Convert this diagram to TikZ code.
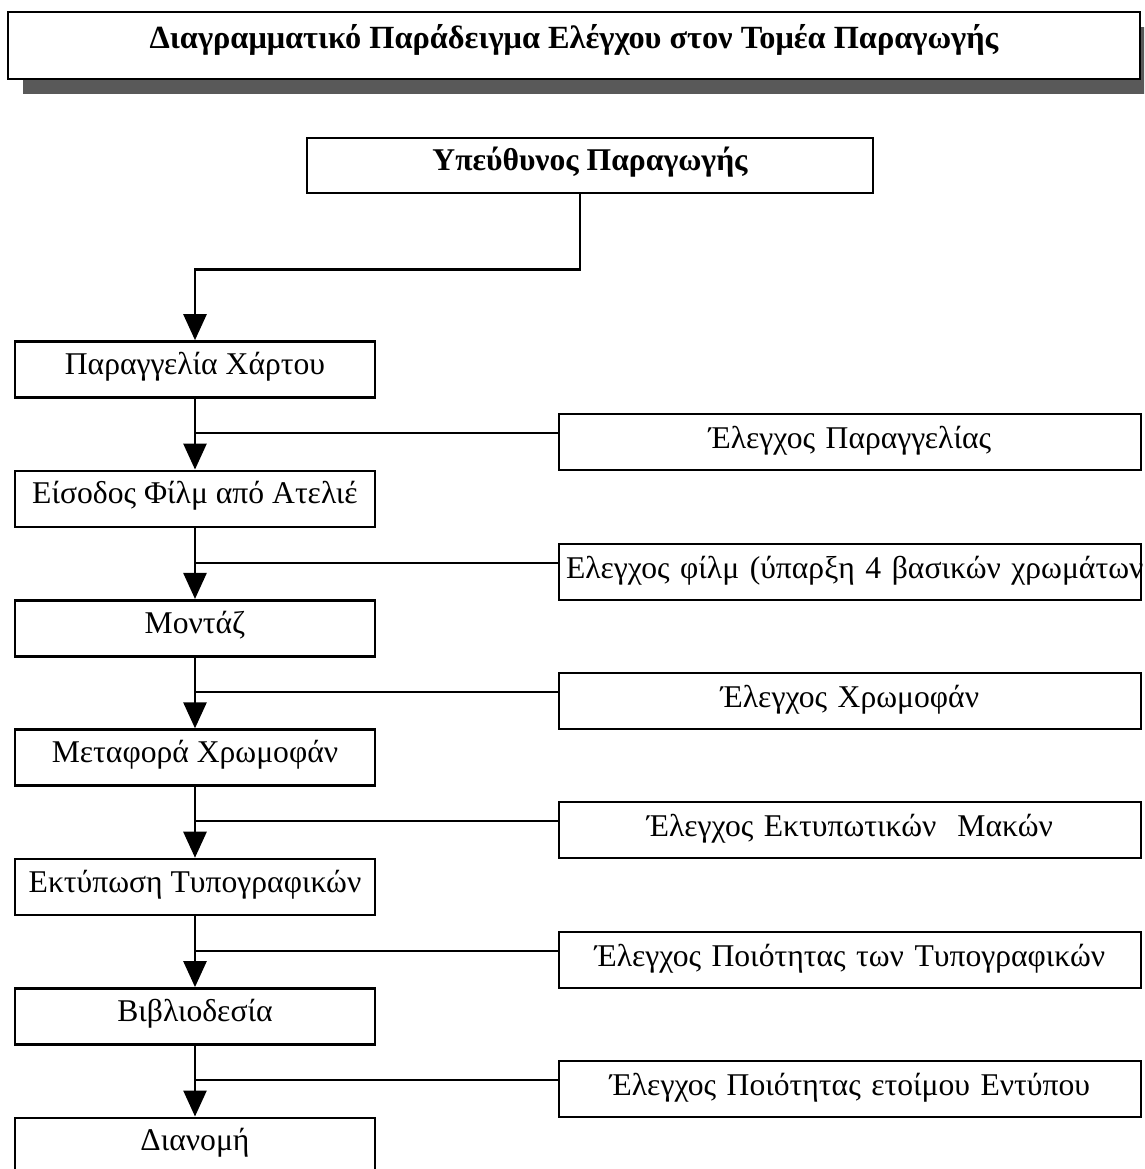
\documentclass[tikz,border=0pt]{standalone}
\usepackage{fontspec}
\setmainfont{Liberation Serif}
\usetikzlibrary{positioning}
\usetikzlibrary{arrows.meta}
\usetikzlibrary{shadows}

\begin{document}
\begin{tikzpicture}[
    heading/.style={rectangle, draw, fill=white, line width=1pt, minimum width=22.64cm, inner sep=0pt, text height=0.72cm, text depth=0.62cm, font=\bfseries\fontsize{18.4}{22}\selectfont, drop shadow={shadow xshift=0.3cm, shadow yshift=-0.3cm, fill=black!65, opacity=1}},
    boss/.style={rectangle, draw, line width=1.5pt, minimum width=11.32cm, inner sep=0pt, text height=0.64cm, text depth=0.46cm, font=\bfseries\fontsize{18}{20}\selectfont},
    stage/.style={rectangle, draw, line width=1.5pt, minimum width=7.2cm, inner sep=0pt, text height=0.66cm, text depth=0.46cm, font=\fontsize{18}{20}\selectfont},
    check/.style={rectangle, draw, line width=1.5pt, text width=11.36cm, inner xsep=0.14cm, inner ysep=0pt, align=center, text height=0.68cm, text depth=0.44cm, font=\fontsize{18}{20}\selectfont},
    flow/.style={-{Triangle[length=0.52cm, width=0.46cm]}, line width=1.5pt},
    link/.style={line width=1.5pt}
]
\clip (0,0) rectangle (22.88,-23.38);

% Title
\node[heading] (title) at (11.48,-0.91) {Διαγραμματικό Παράδειγμα Ελέγχου στον Τομέα Παραγωγής};

% Head of production
\node[boss] (boss) at (11.8,-3.31) {Υπεύθυνος Παραγωγής};

% Production stages
\node[stage] (paper) at (3.9,-7.39) {Παραγγελία Χάρτου};
\node[stage, below=1.415cm of paper] (film) {Είσοδος Φίλμ από Ατελιέ};
\node[stage, below=1.415cm of film] (montage) {Μοντάζ};
\node[stage, below=1.415cm of montage] (transfer) {Μεταφορά Χρωμοφάν};
\node[stage, below=1.415cm of transfer] (print) {Εκτύπωση Τυπογραφικών};
\node[stage, below=1.415cm of print] (binding) {Βιβλιοδεσία};
\node[stage, below=1.415cm of binding] (delivery) {Διανομή};

% Checks
\node[check] (checkorder) at (17.0,-8.84) {Έλεγχος Παραγγελίας};
\node[check, align=left] (checkfilm) at (17.0,-11.44) {\rlap{Ελεγχος φίλμ (ύπαρξη 4 βασικών χρωμάτων}};
\node[check] (checkcolour) at (17.0,-14.02) {Έλεγχος Χρωμοφάν};
\node[check] (checkplates) at (17.0,-16.6) {Έλεγχος Εκτυπωτικών~ Μακών};
\node[check] (checkprint) at (17.0,-19.2) {Έλεγχος Ποιότητας των Τυπογραφικών};
\node[check] (checkfinal) at (17.0,-21.78) {Έλεγχος Ποιότητας ετοίμου Εντύπου};

% Flow
\draw[flow] ([xshift=-0.2cm]boss.south) -- ++(0,-1.5) -| (paper.north);
\draw[flow] (paper) -- (film);
\draw[flow] (film) -- (montage);
\draw[flow] (montage) -- (transfer);
\draw[flow] (transfer) -- (print);
\draw[flow] (print) -- (binding);
\draw[flow] (binding) -- (delivery);

% Check links
\coordinate (j1) at ([yshift=0.18cm]checkorder.west);
\coordinate (j2) at ([yshift=0.18cm]checkfilm.west);
\coordinate (j3) at ([yshift=0.18cm]checkcolour.west);
\coordinate (j4) at ([yshift=0.18cm]checkplates.west);
\coordinate (j5) at ([yshift=0.18cm]checkprint.west);
\coordinate (j6) at ([yshift=0.18cm]checkfinal.west);
\draw[link] (j1) -- (j1 -| paper.south);
\draw[link] (j2) -- (j2 -| film.south);
\draw[link] (j3) -- (j3 -| montage.south);
\draw[link] (j4) -- (j4 -| transfer.south);
\draw[link] (j5) -- (j5 -| print.south);
\draw[link] (j6) -- (j6 -| binding.south);

\end{tikzpicture}
\end{document}
